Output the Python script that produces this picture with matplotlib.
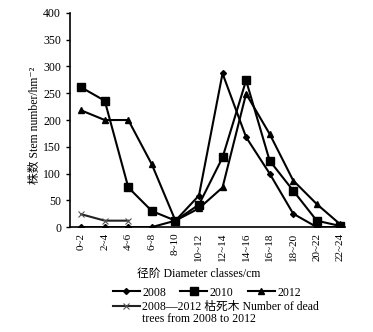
import matplotlib
matplotlib.use("Agg")
import matplotlib.pyplot as plt
from matplotlib.lines import Line2D

plt.rcParams['font.family'] = ['Liberation Serif', 'Noto Sans CJK SC', 'DejaVu Serif']
plt.rcParams['font.weight'] = 'normal'

categories = ["0~2", "2~4", "4~6", "6~8", "8~10", "10~12", "12~14", "14~16",
              "16~18", "18~20", "20~22", "22~24"]
y2008 = [0, 0, 0, 0, 12, 59, 287, 168, 100, 25, 0, 0]
y2010 = [261, 236, 74, 30, 12, 42, 130, 274, 124, 68, 12, 2]
y2012 = [218, 200, 200, 117, 12, 35, 74, 249, 174, 87, 43, 5]
dead_cats = ["0~2", "2~4", "4~6"]
dead = [24, 12, 12]

fig = plt.figure(figsize=(3.73, 3.32), dpi=100)
ax = fig.add_axes([0.188, 0.316, 0.737, 0.645])

x = list(range(len(categories)))
xd = [categories.index(c) for c in dead_cats]

l1, = ax.plot(x, y2008, color='black', lw=1.5, marker='D', ms=3, label='2008')
l2, = ax.plot(x, y2010, color='black', lw=1.5, marker='s', ms=5.5, label='2010')
l3, = ax.plot(x, y2012, color='black', lw=1.5, marker='^', ms=5, label='2012')
l4, = ax.plot(xd, dead, color='#222222', lw=1.5, marker='x', ms=5, mew=0.8,
              mec='#555555', label='2008\u20142012 枯死木 Number of dead')
blank = Line2D([], [], color='none', label='trees from 2008 to 2012')

ax.set_xlim(-0.47, 11.2)
ax.set_ylim(0, 400)
ax.set_yticks(range(0, 401, 50))
ax.set_xticks(x)
ax.set_xticklabels(categories, rotation=90, fontsize=8)
ax.tick_params(axis='y', labelsize=8.5, direction='out', length=3, width=1)
ax.tick_params(axis='x', direction='out', length=0, pad=4)
for s in ['top', 'right']:
    ax.spines[s].set_visible(False)
for s in ['left', 'bottom']:
    ax.spines[s].set_linewidth(1.2)

fig.text(0.094, 0.622, '株数 Stem number/hm\u207b\u00b2', fontsize=8.5, rotation=90,
         ha='center', va='center')
fig.text(0.532, 0.176, '径阶 Diameter classes/cm', fontsize=8.5, ha='center', va='center')

prop = {'family': ['Liberation Serif', 'Noto Sans CJK SC'], 'size': 8.5, 'weight': 'normal'}
fig.legend(handles=[l1, l2, l3], loc='upper left', bbox_to_anchor=(0.302, 0.137),
           ncol=3, frameon=False, prop=prop, handlelength=2.3,
           handletextpad=0.2, columnspacing=1.2, borderaxespad=0, borderpad=0)
fig.legend(handles=[l4, blank], loc='upper left', bbox_to_anchor=(0.302, 0.094),
           frameon=False, prop=prop, handlelength=2.3, handletextpad=0.2,
           borderaxespad=0, borderpad=0, labelspacing=0.05)

fig.savefig('out.png', dpi=100)
